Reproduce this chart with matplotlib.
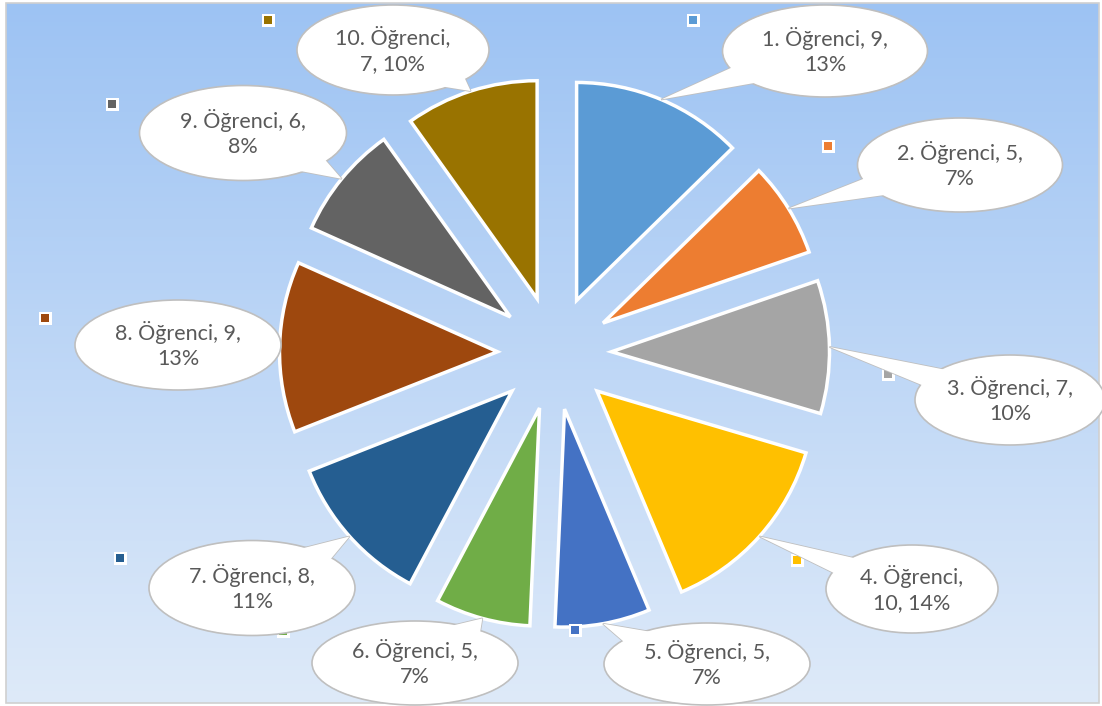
import numpy as np
import matplotlib.pyplot as plt
from matplotlib.patches import Ellipse, Polygon, Rectangle

plt.rcParams['font.family'] = ['Lato', 'DejaVu Sans']

names = ['1. Öğrenci', '2. Öğrenci', '3. Öğrenci', '4. Öğrenci', '5. Öğrenci',
         '6. Öğrenci', '7. Öğrenci', '8. Öğrenci', '9. Öğrenci', '10. Öğrenci']
values = [9, 5, 7, 10, 5, 5, 8, 9, 6, 7]
colors = ['#5B9BD5', '#ED7D31', '#A5A5A5', '#FFC000', '#4472C4',
          '#70AD47', '#255E91', '#9E480E', '#636363', '#997300']

W, H = 1102, 706
total = sum(values)

# callout centre (px, from top-left), width, height; then key marker position
bubbles = [(825, 51, 205, 92), (960, 165, 205, 94), (1010, 400, 190, 90),
           (912, 589, 172, 88), (707, 664, 206, 82), (415, 663, 206, 84),
           (252, 588, 206, 95), (178, 345, 206, 90), (243, 133, 207, 95),
           (393, 50, 192, 90)]
keys = [(693, 20), (828, 146), (888, 374), (797, 560), (575, 630),
        (283, 631), (120, 558), (45, 318), (112, 104), (268, 20)]

fig = plt.figure(figsize=(W / 100, H / 100), dpi=100)
ax = fig.add_axes([0, 0, 1, 1])

# background gradient + frame
grad = np.linspace(0, 1, 256)[:, None]
c_top = np.array([157, 195, 243]) / 255
c_bot = np.array([222, 234, 249]) / 255
img = c_top[None, None, :] * (1 - grad[..., None]) + c_bot[None, None, :] * grad[..., None]
ax.imshow(img, extent=(6, W - 3, 3, H - 3), aspect='auto', zorder=0, origin='upper')
ax.add_patch(Rectangle((6, 3), W - 9, H - 6, fill=False, ec='#D0D0D0', lw=1.2, zorder=1))

R = 218
cx, cy = 554.5, H - 353
# explode is in data units here (pie does not scale it by radius)
wedges, _ = ax.pie(values, colors=colors, startangle=90, counterclock=False,
                   radius=R, center=(cx, cy), explode=[57] * len(values),
                   wedgeprops=dict(edgecolor='white', linewidth=2.5), frame=True)
for w in wedges:
    w.set_zorder(2)

# key markers
for (kx, ky), c in zip(keys, colors):
    ax.add_patch(Rectangle((kx - 6.5, H - ky - 6.5), 13, 13, fc='white', ec='none', zorder=3))
    ax.add_patch(Rectangle((kx - 4, H - ky - 4), 8, 8, fc=c, ec='none', zorder=4))

# callouts
for i, (w, name, v) in enumerate(zip(wedges, names, values)):
    bx, by, bw, bh = bubbles[i]
    by = H - by
    mid = np.deg2rad((w.theta1 + w.theta2) / 2)
    tx = w.center[0] + R * np.cos(mid)
    ty = w.center[1] + R * np.sin(mid)
    pct = round(v / total * 100)
    if len(name) + len(str(v)) > 11:
        txt = f'{name},\n{v}, {pct}%'
    else:
        txt = f'{name}, {v},\n{pct}%'
    ang = np.arctan2((ty - by) / bh, (tx - bx) / bw)
    base = []
    for d in (-0.28, 0.28):
        base.append((bx + 0.42 * bw * np.cos(ang + d), by + 0.42 * bh * np.sin(ang + d)))
    tri = [(tx, ty)] + base
    ax.add_patch(Polygon(tri, closed=True, fc='white', ec='#BFBFBF', lw=1.2, zorder=5 + i * 0.1))
    ax.add_patch(Ellipse((bx, by), bw, bh, fc='white', ec='#BFBFBF', lw=1.2, zorder=5.01 + i * 0.1))
    ax.add_patch(Ellipse((bx, by), bw - 3, bh - 3, fc='white', ec='none', zorder=5.02 + i * 0.1))
    ax.add_patch(Polygon(tri, closed=True, fc='white', ec='none', zorder=5.03 + i * 0.1))
    ax.text(bx, by, txt, ha='center', va='center', fontsize=15.5, color='#595959',
            linespacing=1.3, zorder=5.05 + i * 0.1)

ax.set_xlim(0, W)
ax.set_ylim(0, H)
ax.set_aspect('auto')
ax.axis('off')
fig.savefig('out.png', dpi=100, facecolor='white')
